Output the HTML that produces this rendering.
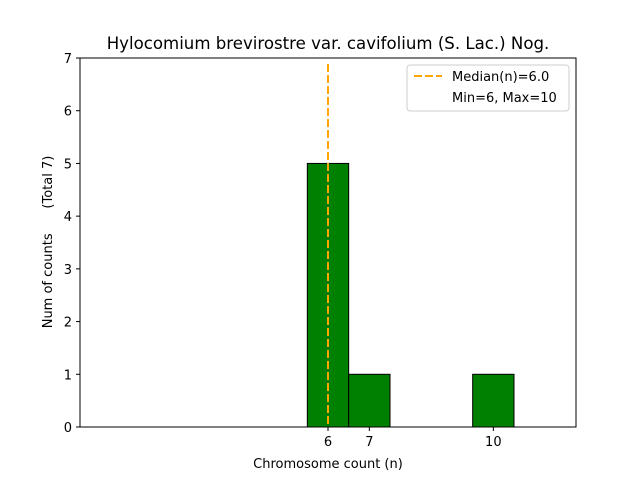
<!DOCTYPE html>
<html><head><meta charset="utf-8"><style>
body{margin:0;background:#fff;font-family:"Liberation Sans","DejaVu Sans",sans-serif;}
</style></head><body>
<svg width="640" height="480" viewBox="0 0 640 480" font-family="'DejaVu Sans','Liberation Sans',sans-serif">
<rect width="640" height="480" fill="#fff"/>
<g id="bars"></g>
<line id="median" stroke="#ffa500" stroke-width="2" stroke-dasharray="8,3"/>
<rect x="80" y="58" width="496" height="369" fill="none" stroke="#000" stroke-width="1"/>
<g id="xt"></g><g id="yt"></g>
<text x="328" y="49" font-size="16.6" text-anchor="middle">Hylocomium brevirostre var. cavifolium (S. Lac.) Nog.</text>
<text x="328" y="468" font-size="13" text-anchor="middle">Chromosome count (n)</text>
<text transform="translate(52,242) rotate(-90)" font-size="13" text-anchor="middle" xml:space="preserve">Num of counts      (Total 7)</text>
<g>
<rect x="407" y="65" width="162" height="46" rx="3" fill="#fff" stroke="#ccc"/>
<line x1="414" y1="76" x2="442" y2="76" stroke="#ffa500" stroke-width="2" stroke-dasharray="8,3"/>
<text x="452" y="81" font-size="13">Median(n)=6.0</text>
<text x="452" y="102" font-size="13">Min=6, Max=10</text>
</g>
</svg>
<script>
const categories=[6,7,10];
const counts=[5,1,1];
const xTicks=[6,7,10];
const yTicks=[0,1,2,3,4,5,6,7];
const median=6.0;
const X0=80,X1=576,Y0=427,Y1=58;
const xs=v=>X0+(v-0)/(12-0)*(X1-X0);
const ys=v=>Y0-(v/7)*(Y0-Y1);
const NS="http://www.w3.org/2000/svg";
const bars=document.getElementById('bars');
categories.forEach((c,i)=>{
 const r=document.createElementNS(NS,'rect');
 r.setAttribute('x',xs(c-0.5));r.setAttribute('width',xs(c+0.5)-xs(c-0.5));
 r.setAttribute('y',ys(counts[i]));r.setAttribute('height',ys(0)-ys(counts[i]));
 r.setAttribute('fill','#008000');r.setAttribute('stroke','#000');
 
 
 bars.appendChild(r);
});
const m=document.getElementById('median');
m.setAttribute('x1',xs(median));m.setAttribute('x2',xs(median));
m.setAttribute('y1',64);m.setAttribute('y2',Y0);
const xt=document.getElementById('xt');
xTicks.forEach(t=>{
 const l=document.createElementNS(NS,'line');
 l.setAttribute('x1',xs(t));l.setAttribute('x2',xs(t));l.setAttribute('y1',Y0);l.setAttribute('y2',Y0+4);l.setAttribute('stroke','#000');
 
 
 xt.appendChild(l);
 const tx=document.createElementNS(NS,'text');
 tx.setAttribute('x',xs(t));tx.setAttribute('y',Y0+19);tx.setAttribute('font-size','13');tx.setAttribute('text-anchor','middle');
 tx.textContent=t;
 
 
 xt.appendChild(tx);
});
const yt=document.getElementById('yt');
yTicks.forEach(t=>{
 const l=document.createElementNS(NS,'line');
 l.setAttribute('x1',X0-4);l.setAttribute('x2',X0);l.setAttribute('y1',ys(t));l.setAttribute('y2',ys(t));l.setAttribute('stroke','#000');
 
 
 yt.appendChild(l);
 const tx=document.createElementNS(NS,'text');
 tx.setAttribute('x',X0-8);tx.setAttribute('y',ys(t)+5);tx.setAttribute('font-size','13');tx.setAttribute('text-anchor','end');
 tx.textContent=t;
 
 
 yt.appendChild(tx);
});
</script>
</body></html>
